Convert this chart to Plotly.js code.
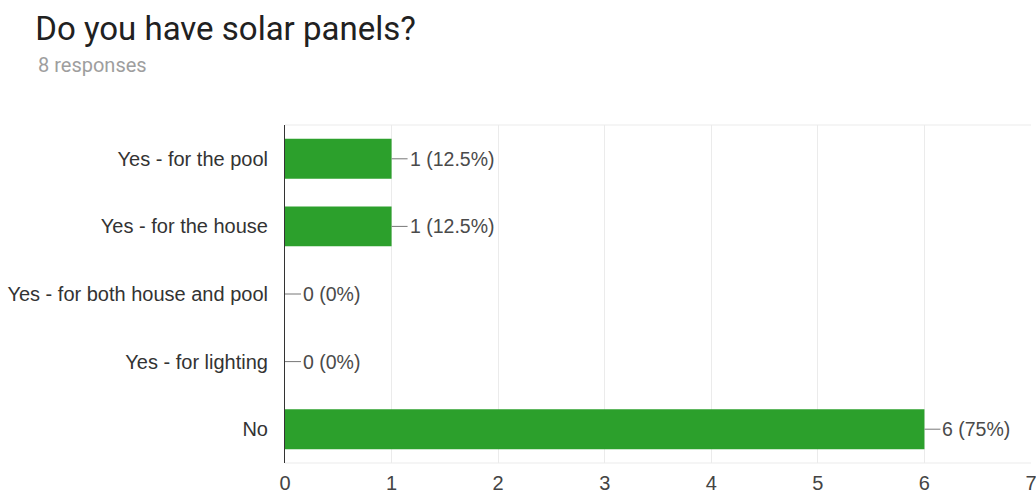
<!DOCTYPE html>
<html>
<head>
<meta charset="utf-8">
<script src="https://cdn.plot.ly/plotly-3.0.1.min.js"></script>
<style>html,body{margin:0;padding:0;background:#fff;}#chart{width:1036px;height:496px;}</style>
</head>
<body>
<div id="chart"></div>
<script>
const categories = ["Yes - for the pool", "Yes - for the house", "Yes - for both house and pool", "Yes - for lighting", "No"];
const counts = [1, 1, 0, 0, 6];
const percents = ["12.5%", "12.5%", "0%", "0%", "75%"];
const xTicks = [0, 1, 2, 3, 4, 5, 6, 7];

const labels = counts.map((c, i) => c + " (" + percents[i] + ")");
const baseFont = "Liberation Sans, Arial, sans-serif";

const trace = {
  type: "bar",
  orientation: "h",
  y: categories,
  x: counts,
  marker: { color: "#2ca02c" },
  hoverinfo: "none"
};

const annotations = categories.map((cat, i) => ({
  x: counts[i], y: cat, xref: "x", yref: "y",
  text: labels[i], showarrow: true, arrowhead: 0, arrowwidth: 1, arrowcolor: "#777",
  ax: 16, ay: 0, xanchor: "left", standoff: 0,
  font: { family: baseFont, size: 19.5, color: "#4a4a4a" }
}));

annotations.push({
  xref: "paper", yref: "paper", x: -0.334, y: 1.178, xanchor: "left", yanchor: "middle",
  text: "8 responses", showarrow: false,
  font: { family: "Roboto, sans-serif", size: 20, color: "#9e9e9e" }
});

const layout = {
  width: 1036, height: 496,
  margin: { l: 285, r: 5, t: 125, b: 33 },
  paper_bgcolor: "#fff", plot_bgcolor: "#fff",
  title: { text: "Do you have solar panels?", x: 0.034, xanchor: "left", y: 0.943, yanchor: "middle",
           font: { family: "Roboto, sans-serif", size: 33, color: "#212121" } },
  bargap: 0.41,
  showlegend: false,
  xaxis: {
    range: [0, 7], tickvals: xTicks, ticktext: xTicks.map(String),
    showgrid: true, gridcolor: "#ebebeb", gridwidth: 1, zeroline: false,
    showline: false, ticks: "", ticklabelstandoff: 6, ticklabeloverflow: "allow",
    tickfont: { family: baseFont, size: 20, color: "#444" },
    fixedrange: true
  },
  yaxis: {
    autorange: "reversed", showgrid: false, zeroline: false,
    showline: true, linecolor: "#333", linewidth: 1, ticks: "",
    ticklabelstandoff: 12,
    tickfont: { family: baseFont, size: 20, color: "#333" },
    fixedrange: true
  },
  shapes: [
    { type: "line", xref: "paper", yref: "paper", x0: 0, x1: 1, y0: 1, y1: 1, line: { color: "#ebebeb", width: 1 } },
    { type: "line", xref: "paper", yref: "paper", x0: 0, x1: 1, y0: 0, y1: 0, line: { color: "#ebebeb", width: 1 } }
  ],
  annotations: annotations
};

Plotly.newPlot("chart", [trace], layout, { displayModeBar: false, staticPlot: true });
</script>
</body>
</html>
